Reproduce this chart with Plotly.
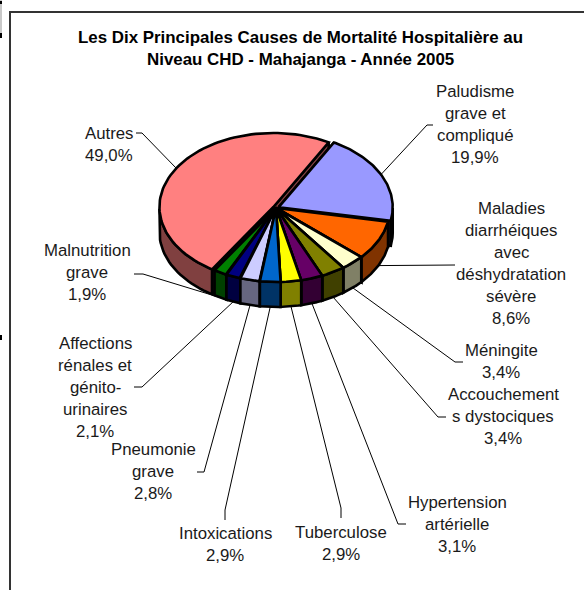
import numpy as np
import plotly.graph_objects as go

# Slices, clockwise from the first one
labels = ['Paludisme\ngrave et\ncompliqué', 'Maladies\ndiarrhéiques\navec\ndéshydratation\nsévère', 'Méningite',
          'Accouchement\ns dystociques', 'Hypertension\nartérielle', 'Tuberculose', 'Intoxications',
          'Pneumonie\ngrave', 'Affections\nrénales et\ngénito-\nurinaires', 'Malnutrition\ngrave', 'Autres']
values = [19.9, 8.6, 3.4, 3.4, 3.1, 2.9, 2.9, 2.8, 2.1, 1.9, 49.0]
top_colors = ['#9999FF', '#FF6600', '#FFFFCC', '#808000', '#660066', '#FFFF00', '#0066CC',
              '#CCCCFF', '#000080', '#008000', '#FF8080']
side_colors = ['#4D4D80', '#803300', '#808066', '#404000', '#330033', '#808000', '#003366',
               '#666680', '#000040', '#004000', '#804040']
explode = [3, 0, 0, 0, 0, 0, 0, 0, 0, 0, 3]

# Label layout: centre x, first line y, then the leader's elbow (two points)
label_x = [475, 511, 501, 503, 457, 341, 225, 153, 95, 87, 109]
label_y = [91, 208, 350, 394, 502, 532, 533, 449, 343, 250, 133]
leader_a = [(433, 125), (455, 265), (463, 362), (446, 417), (406, 524), (341, 518), (225, 520),
            (197, 472), (134, 387), (134, 274), (136, 133)]
leader_b = [(427, 125), (447, 265), (455, 362), (438, 417), (398, 524), (341, 508), (225, 510),
            (204, 472), (142, 387), (143, 274), (142, 133)]

# Pie geometry in page pixels
cx, cy = 276, 208
rx, ry = 114, 74
depth = 25
start_angle = 29
line_h = 22
font_size = 16.8
font = 'Liberation Sans'


def rim(a, ox=0.0, oy=0.0):
    # a is in degrees, clockwise from the top
    r = np.radians(a)
    return cx + ox + rx * np.sin(r), cy + oy - ry * np.cos(r)


fig = go.Figure()


def poly(xs, ys, fill):
    fig.add_trace(go.Scatter(x=list(xs) + [xs[0]], y=list(ys) + [ys[0]], mode='lines', fill='toself',
                             fillcolor=fill, line=dict(color='black', width=2.6), hoverinfo='skip',
                             showlegend=False))


# Leaders go under the pie
ends = np.cumsum([0] + values) * 3.6 + start_angle
for i in range(len(values)):
    mid = (ends[i] + ends[i + 1]) / 2
    px, py = rim(mid)
    if np.cos(np.radians(mid)) < 0:
        py += depth
    fig.add_trace(go.Scatter(x=[leader_a[i][0], leader_b[i][0], px], y=[leader_a[i][1], leader_b[i][1], py],
                             mode='lines', line=dict(color='black', width=1), hoverinfo='skip', showlegend=False))

# Painter's order: back slices first
mids = (ends[:-1] + ends[1:]) / 2
for i in np.argsort(-np.cos(np.radians(mids))):
    a0, a1 = ends[i], ends[i + 1]
    ox = explode[i] * np.sin(np.radians(mids[i]))
    oy = -explode[i] * np.cos(np.radians(mids[i])) * ry / rx
    ang = np.linspace(a0, a1, 80)
    x, y = rim(ang, ox, oy)
    ax, ay = cx + ox, cy + oy

    # straight inner faces
    for a in (a0, a1):
        ex, ey = rim(a, ox, oy)
        poly([ax, ex, ex, ax], [ay, ey, ey + depth, ay + depth], side_colors[i])

    # outer wall, only the part that faces the viewer
    front = np.cos(np.radians(ang)) < 0
    if front.sum() > 1:
        poly(list(x[front]) + list(x[front][::-1]), list(y[front]) + list(y[front][::-1] + depth), side_colors[i])

    poly([ax] + list(x), [ay] + list(y), top_colors[i])

# Labels, one annotation per line because of the wide line spacing
for i, name in enumerate(labels):
    lines = name.split('\n') + [f'{values[i]:.1f}%'.replace('.', ',')]
    for j, line in enumerate(lines):
        fig.add_annotation(x=label_x[i], y=label_y[i] + j * line_h, text=line, showarrow=False,
                           xanchor='center', yanchor='middle', font=dict(family=font, size=font_size, color='#1a1a1a'))

for y, line in zip([37, 59], ['Les Dix Principales Causes de Mortalité Hospitalière au',
                              'Niveau CHD - Mahajanga - Année 2005']):
    fig.add_annotation(x=300, y=y, text=f'<b>{line}</b>', showarrow=False, xanchor='center', yanchor='middle',
                       font=dict(family=font, size=16.9, color='black'))

# Chart frame and the bits of window at the left edge
frame = dict(type='line', line=dict(color='#333333', width=2))
fig.add_shape(x0=10, x1=10, y0=11, y1=590, **frame)
fig.add_shape(x0=9, x1=584, y0=12, y1=12, **frame)
fig.add_shape(type='rect', x0=0, x1=2, y0=0, y1=38, fillcolor='#c8c8c8', line_width=0)
fig.add_shape(type='rect', x0=0, x1=2, y0=1, y1=4, fillcolor='black', line_width=0)
fig.add_shape(type='rect', x0=0, x1=2, y0=33, y1=38, fillcolor='black', line_width=0)
fig.add_shape(type='rect', x0=0, x1=2, y0=335, y1=340, fillcolor='black', line_width=0)

fig.update_layout(width=584, height=590, margin=dict(l=0, r=0, t=0, b=0), plot_bgcolor='white', paper_bgcolor='white',
                  xaxis=dict(range=[0, 584], visible=False, fixedrange=True),
                  yaxis=dict(range=[590, 0], visible=False, fixedrange=True))
fig.write_html("out.html", post_script="document.body.style.margin='0';", config=dict(displayModeBar=False))
